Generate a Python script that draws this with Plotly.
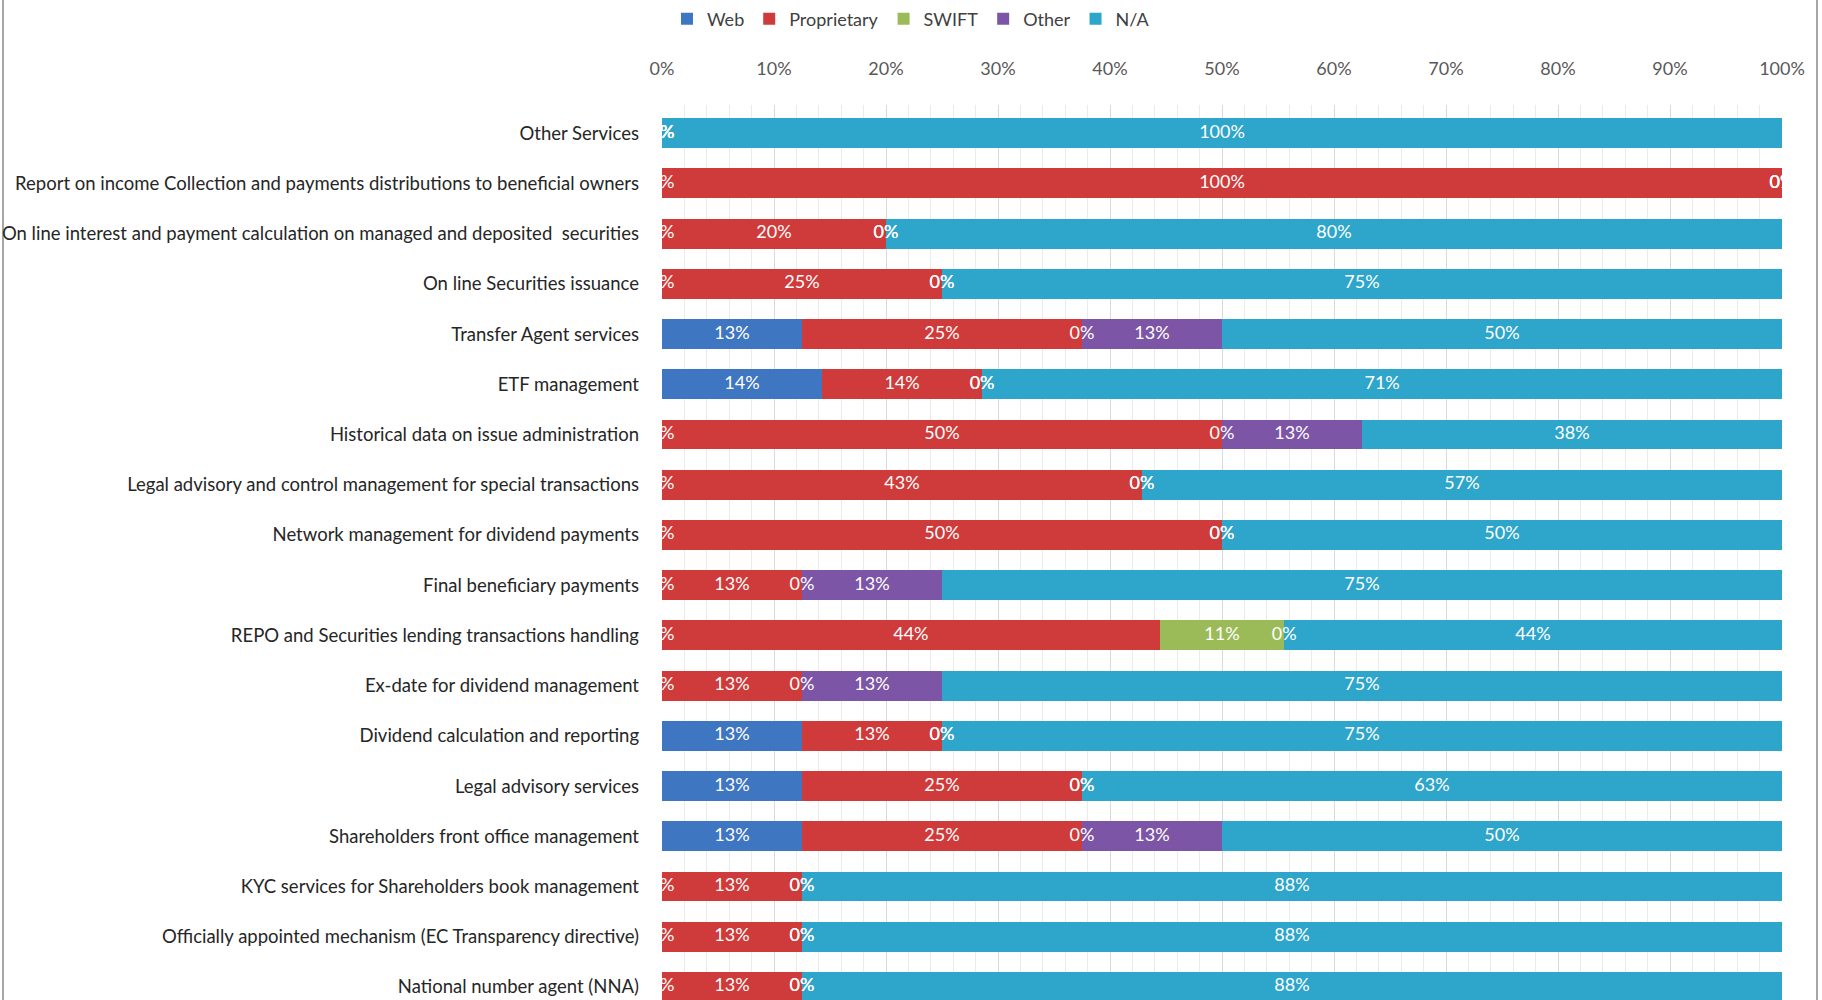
import plotly.graph_objects as go

# Service categories, listed top to bottom
services = [
    "Other Services",
    "Report on income Collection and payments distributions to beneficial owners",
    "On line interest and payment calculation on managed and deposited  securities",
    "On line Securities issuance",
    "Transfer Agent services",
    "ETF management",
    "Historical data on issue administration",
    "Legal advisory and control management for special transactions",
    "Network management for dividend payments",
    "Final beneficiary payments",
    "REPO and Securities lending transactions handling",
    "Ex-date for dividend management",
    "Dividend calculation and reporting",
    "Legal advisory services",
    "Shareholders front office management",
    "KYC services for Shareholders book management",
    "Officially appointed mechanism (EC Transparency directive)",
    "National number agent (NNA)",
]

# Share of respondents (%) per channel
web         = [0, 0, 0, 0, 12.5, 14.29, 0, 0, 0, 0, 0, 0, 12.5, 12.5, 12.5, 0, 0, 0]
proprietary = [0, 100, 20, 25, 25, 14.29, 50, 42.86, 50, 12.5, 44.44, 12.5, 12.5, 25, 25, 12.5, 12.5, 12.5]
swift       = [0, 0, 0, 0, 0, 0, 0, 0, 0, 0, 11.11, 0, 0, 0, 0, 0, 0, 0]
other       = [0, 0, 0, 0, 12.5, 0, 12.5, 0, 0, 12.5, 0, 12.5, 0, 0, 12.5, 0, 0, 0]
na          = [100, 0, 80, 75, 50, 71.43, 37.5, 57.14, 50, 75, 44.44, 75, 75, 62.5, 50, 87.5, 87.5, 87.5]

series = [
    ("Web", web, "#3F76C2"),
    ("Proprietary", proprietary, "#CF3A3A"),
    ("SWIFT", swift, "#9BBB59"),
    ("Other", other, "#7D55A6"),
    ("N/A", na, "#2EA5CB"),
]

x_ticks = list(range(0, 101, 10))
x_tick_labels = [f"{t}%" for t in x_ticks]

FONT = "Lato, 'Open Sans', sans-serif"

fig = go.Figure()

# stacked bars
for name, vals, color in series:
    fig.add_trace(go.Bar(
        name=name, y=services, x=vals, orientation="h",
        marker=dict(color=color, line=dict(width=0)),
        hoverinfo="x+y+name",
    ))

# value labels centred on each segment (zero-width segments included)
cum = [0.0] * len(services)
for name, vals, color in series:
    centers = [c + v / 2 for c, v in zip(cum, vals)]
    fig.add_trace(go.Scatter(
        x=centers, y=services, mode="text",
        text=[f"{int(v + 0.5)}%" for v in vals],
        textposition="middle center",
        textfont=dict(family=FONT, size=18, color="white"),
        showlegend=False, hoverinfo="skip", cliponaxis=True,
    ))
    cum = [c + v for c, v in zip(cum, vals)]

L, R, T = 662, 40, 105
W, H = 1822, 1000
plot_w = W - L - R

fig.update_layout(
    width=W, height=H,
    margin=dict(l=L, r=R, t=T, b=0, pad=0, autoexpand=False),
    barmode="stack",
    bargap=0.405,
    plot_bgcolor="white",
    paper_bgcolor="white",
    font=dict(family=FONT, size=18, color="#262626"),
    legend=dict(
        orientation="h", xref="container", yref="container",
        x=0.5, xanchor="center", y=0.981, yanchor="middle",
        font=dict(family=FONT, size=18, color="#404040"),
        itemwidth=30, tracegroupgap=0, traceorder="normal",
    ),
    xaxis=dict(
        side="top", range=[0, 100], automargin=False,
        tickvals=x_ticks, ticktext=x_tick_labels,
        tickfont=dict(family=FONT, size=18, color="#595959"),
        showgrid=True, gridcolor="#D9D9D9", gridwidth=1,
        minor=dict(dtick=2, showgrid=True, gridcolor="#EBEBEB", gridwidth=1),
        zeroline=False, showline=False, ticks="", ticklabelstandoff=25,
        fixedrange=True,
    ),
    yaxis=dict(
        categoryorder="array", categoryarray=services,
        range=[17.26, -0.56], automargin=False,
        tickfont=dict(family=FONT, size=18.5, color="#262626"),
        showgrid=False, zeroline=False, showline=False, ticks="",
        ticklabelstandoff=22, fixedrange=True,
    ),
    shapes=[dict(
        type="rect", xref="paper", yref="paper",
        x0=(3 - L) / plot_w, x1=(W - 5 - L) / plot_w,
        y0=-0.2, y1=1.3,
        line=dict(color="#A6A6A6", width=2), fillcolor="rgba(0,0,0,0)",
        layer="below",
    )],
)

fig.write_html("out.html")
